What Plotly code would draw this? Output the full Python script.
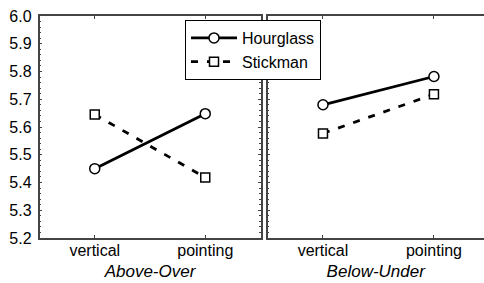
import plotly.graph_objects as go

categories = ["vertical", "pointing"]
panels = ["Above-Over", "Below-Under"]
hourglass_above = [5.45, 5.648]
stickman_above = [5.645, 5.418]
hourglass_below = [5.68, 5.782]
stickman_below = [5.577, 5.718]
y_ticks = [5.2, 5.3, 5.4, 5.5, 5.6, 5.7, 5.8, 5.9, 6.0]

FONT = "Liberation Sans, Arial, sans-serif"
W, H = 484, 283
T, B = 16, 45
PH = H - T - B

fig = go.Figure()

hg_style = dict(mode="lines+markers", line=dict(color="black", width=2.8),
                marker=dict(symbol="circle", size=10, color="white",
                            line=dict(color="black", width=1.5)))
sm_style = dict(mode="lines+markers", line=dict(color="black", width=2.8, dash="7px,9px"),
                marker=dict(symbol="square", size=9, color="white",
                            line=dict(color="black", width=1.5)))

fig.add_trace(go.Scatter(x=categories, y=hourglass_above, name="Hourglass",
                         xaxis="x", yaxis="y", legendgroup="h", **hg_style))
fig.add_trace(go.Scatter(x=categories, y=stickman_above, name="Stickman",
                         xaxis="x", yaxis="y", legendgroup="s", **sm_style))
fig.add_trace(go.Scatter(x=categories, y=hourglass_below, name="Hourglass",
                         xaxis="x2", yaxis="y2", legendgroup="h", showlegend=False, **hg_style))
fig.add_trace(go.Scatter(x=categories, y=stickman_below, name="Stickman",
                         xaxis="x2", yaxis="y2", legendgroup="s", showlegend=False, **sm_style))

axcol = "#444"
xcommon = dict(type="category", showline=True, linecolor=axcol, linewidth=1.5,
               mirror="ticks", ticks="inside", ticklen=3, tickcolor=axcol,
               showgrid=False, zeroline=False, ticklabelstandoff=-3,
               tickfont=dict(family=FONT, size=16, color="black"))
ycommon = dict(range=[5.2, 6.0], showline=True, linecolor=axcol, linewidth=1.5,
               ticks="inside", ticklen=3, tickcolor=axcol, tickvals=y_ticks,
               minor=dict(dtick=0.02, ticks="inside", ticklen=2, tickcolor=axcol),
               showgrid=False, zeroline=False,
               tickfont=dict(family=FONT, size=16, color="black"))

title_font = dict(family=FONT, size=17, color="black", style="italic")

fig.update_layout(
    width=W, height=H,
    margin=dict(l=0, r=0, t=T, b=B),
    paper_bgcolor="white", plot_bgcolor="white",
    showlegend=True,
    xaxis=dict(domain=[39.5 / W, 260.5 / W], range=[-0.5, 1.5], anchor="y",
               title=dict(text=panels[0], standoff=7, font=title_font),
               **xcommon),
    xaxis2=dict(domain=[267.5 / W, 1.0], range=[-0.5, 1.451], anchor="y2",
                title=dict(text=panels[1], standoff=7, font=title_font),
                **xcommon),
    yaxis=dict(anchor="x", mirror="ticks", tickformat=".1f", ticklabelstandoff=3, **ycommon),
    yaxis2=dict(anchor="x2", showticklabels=False, **ycommon),
    legend=dict(x=185 / W, y=1 - (20 - T) / PH, xanchor="left", yanchor="top",
                bgcolor="white", bordercolor="black", borderwidth=1,
                font=dict(family=FONT, size=16, color="black"),
                tracegroupgap=0, itemwidth=46),
)

fig.write_html("out.html", config={"displayModeBar": False},
               post_script="document.body.style.margin='0px';document.body.style.overflow='hidden';")
